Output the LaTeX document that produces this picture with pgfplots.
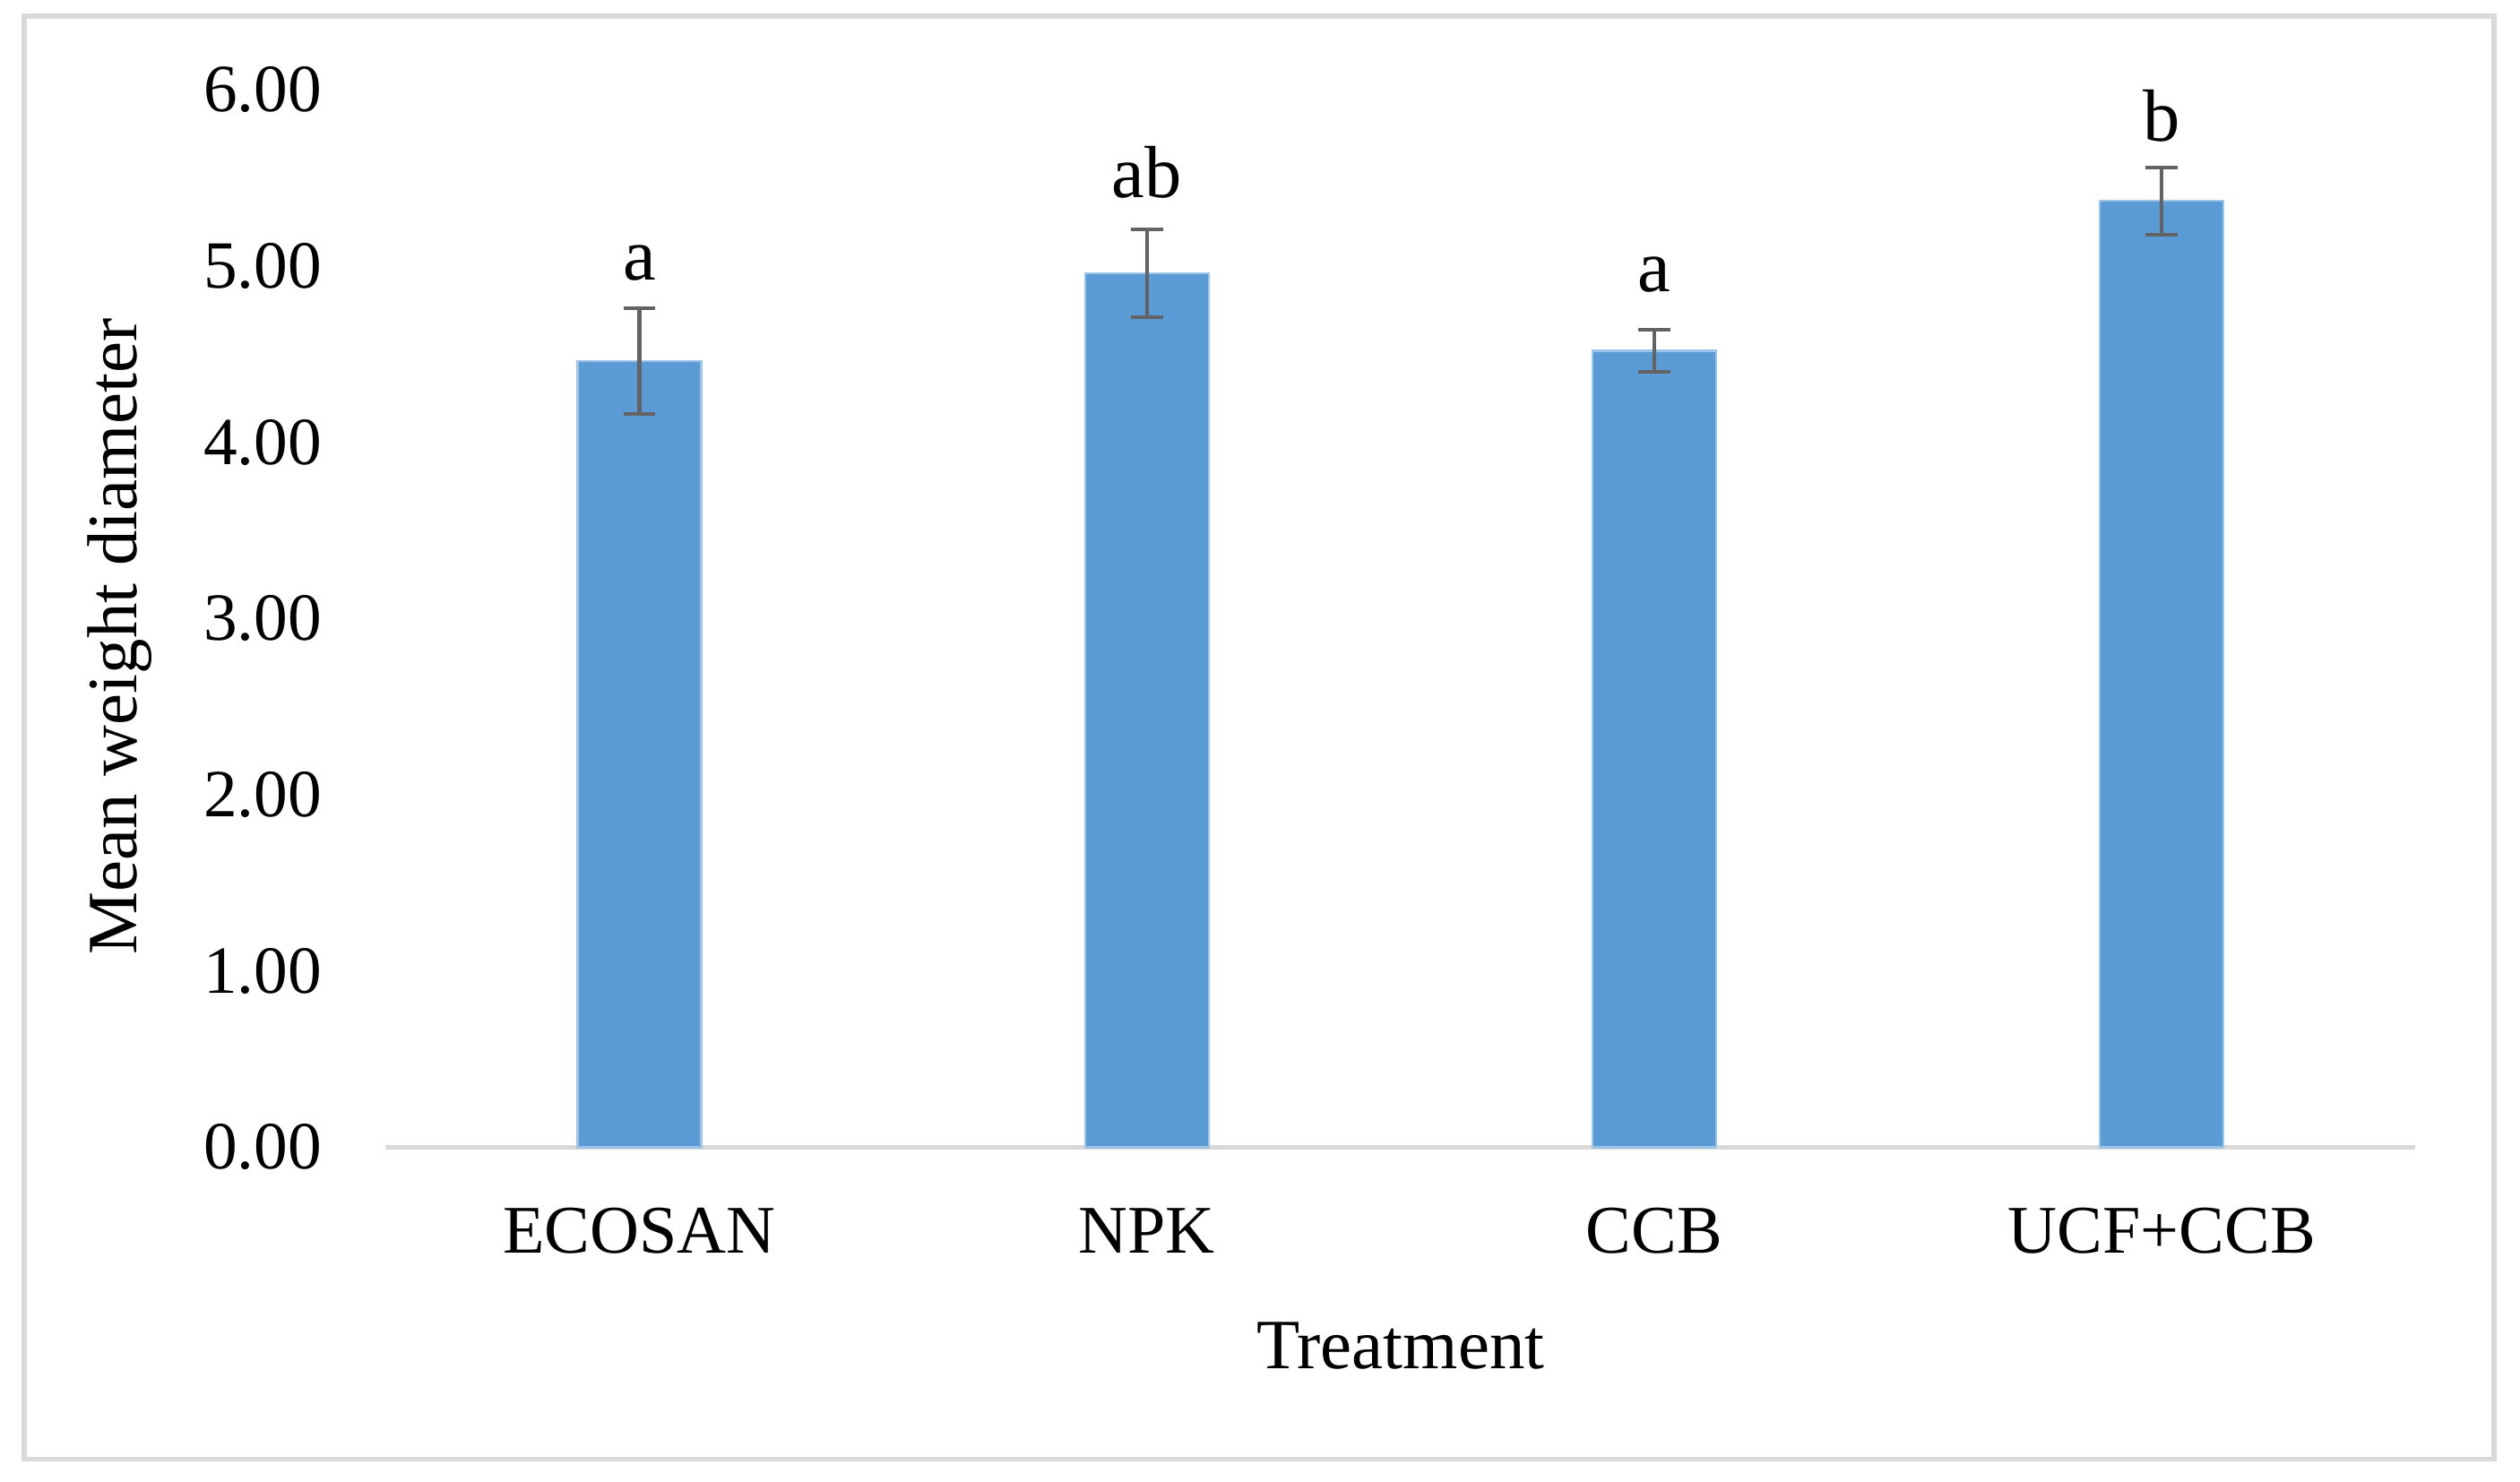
\documentclass[border=0pt]{standalone}
\usepackage{pgfplots}
\pgfplotsset{compat=1.18}
\usepackage{fontspec}
\setmainfont{Liberation Serif}
\definecolor{barblue}{HTML}{5B9BD5}
\definecolor{errgray}{HTML}{636363}
\definecolor{framegray}{HTML}{D9D9D9}

\begin{document}
\begin{tikzpicture}
\useasboundingbox (-60pt,-52pt) rectangle (332pt,178.5pt);
\draw[framegray, line width=0.8pt] (-56.25pt,-48.5pt) rectangle (328pt,176pt);
\begin{axis}[
  at={(0,0)}, anchor=south west,
  scale only axis, width=315.75pt, height=164.5pt,
  xmin=-0.5, xmax=3.5, ymin=0, ymax=6,
  xtick={0,1,2,3}, xticklabels={ECOSAN,NPK,CCB,UCF+CCB},
  ytick={0,1,...,6},
  axis x line*=bottom, axis y line*=left,
  x axis line style={draw=framegray, line width=0.6pt, -},
  y axis line style={draw=none},
  tick style={draw=none},
  /pgf/number format/assume math mode=true,
  yticklabel style={/pgf/number format/fixed, /pgf/number format/fixed zerofill,
    /pgf/number format/precision=2},
  y tick label style={font=\fontsize{10.5}{12}\selectfont, xshift=-6.4pt},
  x tick label style={font=\fontsize{10.6}{13}\selectfont, anchor=base, yshift=-16.5pt},
  xlabel={Treatment}, ylabel={Mean weight diameter},
  xlabel style={font=\fontsize{11}{13}\selectfont, at={(axis description cs:0.5,-0.2097)}, anchor=base},
  ylabel style={font=\fontsize{11}{13}\selectfont, at={(axis description cs:-0.131,0.483)}, anchor=center},
  clip=false,
]
% means with error bars
\addplot[ybar, bar width=19.25pt, fill=barblue, draw=barblue!60!white, line width=0.3pt,
  error bars/.cd, y dir=both, y explicit,
  error bar style={errgray, line width=0.6pt},
  error mark options={errgray, rotate=90, mark size=2.5pt, line width=0.6pt}]
  coordinates {(0,4.46) +- (0,0.30) (1,4.96) +- (0,0.25) (2,4.52) +- (0,0.12) (3,5.37) +- (0,0.19)};
% significance letters
\addplot[draw=none, nodes near coords, point meta=explicit symbolic,
  nodes near coords style={anchor=base, font=\fontsize{11.5}{13}\selectfont, inner sep=0pt}]
  coordinates {(0,4.92)[a] (1,5.39)[ab] (2,4.855)[a] (3,5.71)[b]};
\end{axis}
\end{tikzpicture}
\end{document}
